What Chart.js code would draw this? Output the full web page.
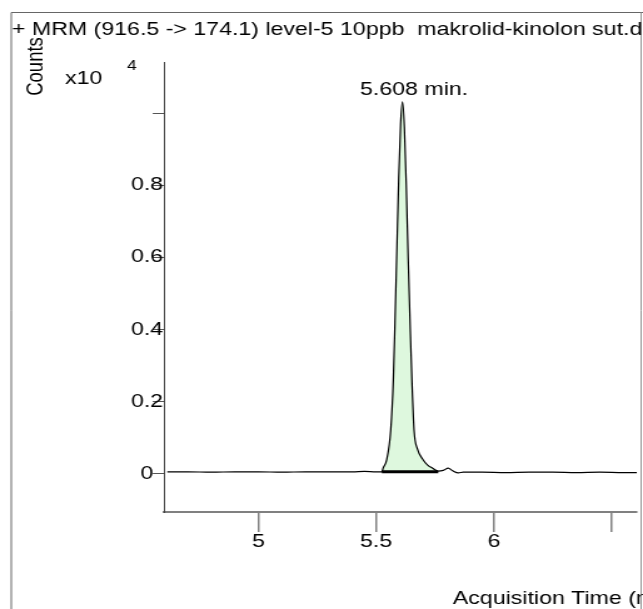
<!DOCTYPE html>
<html>
<head>
<meta charset="utf-8">
<script src="https://cdn.jsdelivr.net/npm/chart.js@4"></script>
<style>
  html, body { margin: 0; padding: 0; background: #fff; overflow: hidden; }
</style>
</head>
<body>
<!-- the source picture is stretched sideways, so the canvas is too (inline style so Chart.js keeps it) -->
<canvas id="chromChart" width="514" height="609" style="width:643px;height:609px;display:block"></canvas>
<script>
// trace (time in min, counts x10^4)
const traceTimes = [4.613, 4.70, 4.80, 4.90, 5.00, 5.10, 5.20, 5.30, 5.40, 5.45, 5.50, 5.515,
  5.524, 5.530, 5.545, 5.562, 5.573, 5.580, 5.588, 5.596, 5.604, 5.612,
  5.620, 5.628, 5.636, 5.645, 5.652, 5.661, 5.675, 5.700, 5.720, 5.737, 5.764,
  5.785, 5.806, 5.825, 5.849, 5.870, 5.950, 6.050, 6.150, 6.250, 6.350, 6.450, 6.550, 6.608];
const traceCounts = [0.006, 0.006, 0.005, 0.006, 0.006, 0.005, 0.006, 0.006, 0.006, 0.007, 0.006, 0.006,
  0.006, 0.017, 0.040, 0.122, 0.260, 0.420, 0.620, 0.820, 0.970, 1.031,
  0.960, 0.800, 0.600, 0.400, 0.260, 0.122, 0.070, 0.039, 0.024, 0.017, 0.008,
  0.010, 0.016, 0.009, 0.003, 0.005, 0.005, 0.004, 0.005, 0.005, 0.004, 0.005, 0.004, 0.004];

// integrated peak
const peakTime = 5.608;
const intStart = 5.524;
const intEnd = 5.764;
const intLevel = 0.006;

const xTicks = [5, 5.5, 6, 6.5];
const xTickLabels = ['5', '5.5', '6', ''];
const yTicks = [0, 0.2, 0.4, 0.6, 0.8, 1.0];
const yTickLabels = ['0', '0.2', '0.4', '0.6', '0.8', ''];

const titleText = '+ MRM (916.5 -> 174.1) level-5 10ppb  makrolid-kinolon sut.d';
const FONT = "'Liberation Sans', Arial, sans-serif";

const tracePts = traceTimes.map((t, i) => ({x: t, y: traceCounts[i]}));
const peakPts = tracePts.filter(p => p.x >= intStart && p.x <= intEnd);

const textPlugin = {
  id: 'textPlugin',
  afterDraw(chart) {
    const c = chart.ctx;
    const xs = chart.scales.x, ys = chart.scales.y;
    c.save();
    // frame
    c.strokeStyle = '#666';
    c.lineWidth = 1;
    c.beginPath();
    c.moveTo(9, chart.height);
    c.lineTo(9, 12.5);
    c.lineTo(chart.width, 12.5);
    c.stroke();
    c.strokeStyle = '#999';
    c.beginPath();
    c.moveTo(chart.width - 1.5, 12.5);
    c.lineTo(chart.width - 1.5, chart.height);
    c.stroke();

    c.fillStyle = '#000';
    c.textBaseline = 'alphabetic';
    c.textAlign = 'left';
    c.font = '18.5px ' + FONT;
    c.fillText(titleText, 9.6, 35);
    c.fillText('x10', 52, 84);
    c.fillText('Acquisition Time (min)', 362, 604);
    c.font = '14px ' + FONT;
    c.fillText('4', 101.5, 70);

    // peak label
    const peakMax = Math.max(...traceCounts);
    c.font = '18.5px ' + FONT;
    c.textAlign = 'center';
    c.fillText(peakTime.toFixed(3) + ' min.', xs.getPixelForValue(peakTime) + 10, ys.getPixelForValue(peakMax) - 7);

    // y axis title
    c.translate(34, 66.5);
    c.rotate(-Math.PI / 2);
    c.textAlign = 'center';
    c.fillText('Counts', 0, 0);
    c.restore();
  }
};

new Chart(document.getElementById('chromChart'), {
  type: 'line',
  data: {
    datasets: [
      {
        data: [{x: intStart, y: intLevel}, {x: intEnd, y: intLevel}],
        borderColor: '#000',
        borderWidth: 3,
        pointRadius: 0,
        fill: false,
        order: 0
      },
      {
        data: tracePts,
        borderColor: '#000',
        borderWidth: 1.2,
        pointRadius: 0,
        cubicInterpolationMode: 'monotone',
        fill: false,
        order: 1
      },
      {
        data: peakPts,
        borderWidth: 0,
        borderColor: 'rgba(0,0,0,0)',
        backgroundColor: 'rgb(222,248,222)',
        pointRadius: 0,
        cubicInterpolationMode: 'monotone',
        fill: {value: intLevel},
        order: 2
      }
    ]
  },
  options: {
    responsive: false,
    devicePixelRatio: 1,
    animation: false,
    layout: {padding: {top: 62, right: 4.8, bottom: 0, left: 0}},
    plugins: {legend: {display: false}, tooltip: {enabled: false}, title: {display: false}},
    scales: {
      x: {
        type: 'linear',
        min: 4.599,
        max: 6.608,
        afterBuildTicks: (axis) => { axis.ticks = xTicks.map(v => ({value: v})); },
        afterFit: (axis) => { axis.height = 97; },
        ticks: {
          autoSkip: false,
          maxRotation: 0,
          padding: -1.5,
          color: '#000',
          font: {family: FONT, size: 18.5},
          callback: (value, index) => xTickLabels[index]
        },
        grid: {drawOnChartArea: false, drawTicks: true, tickLength: 20, color: '#808080', lineWidth: 1.5},
        border: {color: '#808080', width: 2}
      },
      y: {
        type: 'linear',
        min: -0.1053,
        max: 1.1413,
        afterBuildTicks: (axis) => { axis.ticks = yTicks.map(v => ({value: v})); },
        afterFit: (axis) => { axis.width = 131.1; },
        ticks: {
          autoSkip: false,
          crossAlign: 'center',
          padding: -8.25,
          color: '#000',
          font: {family: FONT, size: 18.5},
          callback: (value, index) => yTickLabels[index]
        },
        grid: {drawOnChartArea: false, drawTicks: true, tickLength: 9, color: '#555', lineWidth: 1},
        border: {color: '#404040', width: 1}
      }
    }
  },
  plugins: [textPlugin]
});
</script>
</body>
</html>
